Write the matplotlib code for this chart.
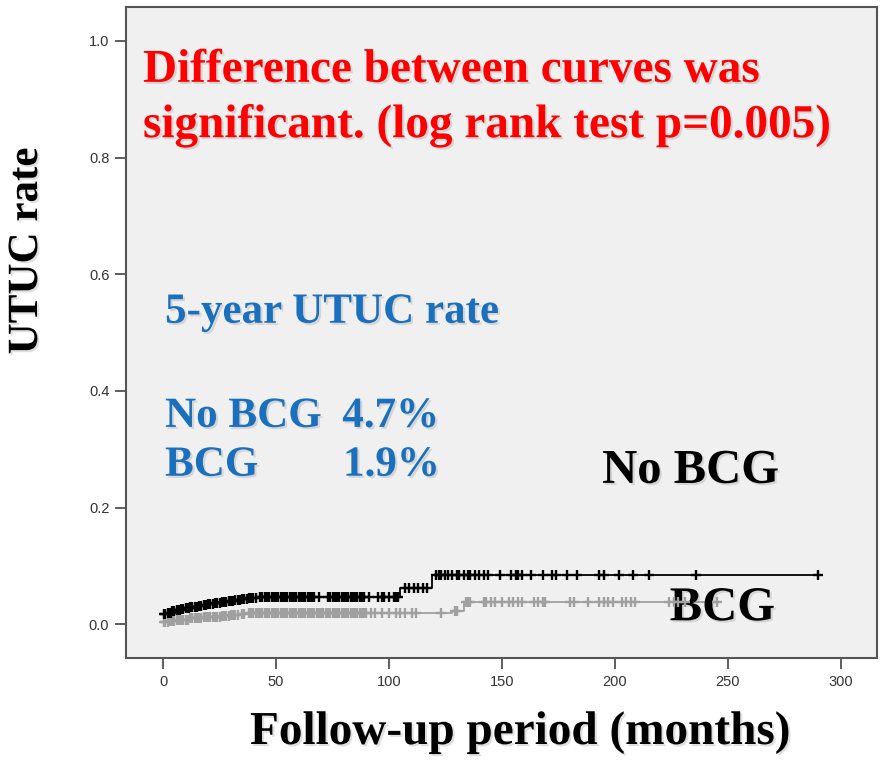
import numpy as np
import matplotlib
matplotlib.use("Agg")
import matplotlib.pyplot as plt
import matplotlib.patheffects as pe

# cumulative UTUC rate, step curves (months, rate)
nobcg_times = [0, 2, 4, 6, 8, 10, 12, 14, 16, 18, 20, 23, 26, 29, 32, 35, 38, 42, 105, 119]
nobcg_rate = [0.018, 0.020, 0.022, 0.024, 0.026, 0.027, 0.029, 0.030, 0.032, 0.033,
              0.035, 0.036, 0.038, 0.040, 0.042, 0.043, 0.045, 0.047, 0.062, 0.085]
bcg_times = [0, 3, 6, 9, 12, 15, 18, 22, 26, 30, 34, 37, 128, 133]
bcg_rate = [0.003, 0.005, 0.007, 0.008, 0.010, 0.011, 0.012, 0.013, 0.014, 0.015,
            0.017, 0.019, 0.022, 0.038]

# censored observations (months)
nobcg_censor = [0.5, 1, 2, 3, 3.5, 4, 5, 6, 7, 7.5, 8, 9, 10, 11, 11.5, 12, 13, 14, 15, 16,
                17, 18, 19, 20, 21, 22, 23, 24, 25, 26, 27, 28, 29, 30, 31, 32, 33, 34, 35,
                36, 37, 38, 39, 40, 41, 43, 44, 45, 46, 47, 48, 49, 50, 51, 52, 53, 54, 55,
                56, 57, 58, 59, 60, 61, 62, 63, 64, 65, 66, 67, 69, 73, 74, 75, 76, 77, 78,
                79, 80, 81, 82, 83, 84, 85, 86, 87, 88, 89, 91, 95, 97, 98, 100, 102, 103,
                104, 107, 109, 111, 113, 115, 117, 121, 122, 123, 125, 126, 128, 130, 131,
                133, 135, 136, 138, 140, 142, 144, 149, 154, 156, 157, 159, 163, 168, 172,
                174, 179, 183, 193, 195, 202, 208, 215, 236, 290]
bcg_censor = [0.5, 1, 2, 3, 4, 5, 6, 7, 8, 9, 10, 11, 12, 13, 14, 15, 16, 17, 18, 19, 20,
              21, 22, 23, 24, 25, 26, 27, 28, 29, 30, 31, 32, 33, 35, 36, 38, 39, 40, 41,
              42, 43, 44, 45, 46, 47, 48, 49, 50, 51, 52, 53, 54, 55, 56, 57, 58, 59, 60,
              61, 62, 63, 64, 65, 66, 67, 68, 69, 70, 71, 72, 73, 74, 75, 76, 77, 78, 79,
              80, 81, 82, 83, 84, 85, 86, 87, 88, 89, 90, 92, 94, 97, 100, 103, 105, 107,
              110, 112, 123, 129, 130, 134, 135, 136, 142, 143, 145, 147, 150, 153, 155,
              157, 159, 164, 166, 168, 169, 180, 182, 188, 193, 195, 197, 199, 203, 205,
              207, 209, 224, 226, 228, 231, 245]
nobcg_end = 290
bcg_end = 245

x_ticks = [0, 50, 100, 150, 200, 250, 300]
y_ticks = [0.0, 0.2, 0.4, 0.6, 0.8, 1.0]


def step_value(times, rates, t):
    idx = np.searchsorted(times, t, side="right") - 1
    return np.asarray(rates)[idx]


serif = ["Liberation Serif", "DejaVu Serif"]
shadow = [pe.withSimplePatchShadow(offset=(1.5, -1.5), shadow_rgbFace="0.6", alpha=0.3)]

fig = plt.figure(figsize=(8.84, 7.65), dpi=100)
ax = fig.add_axes([126 / 884, 107 / 765, 751 / 884, 651 / 765])
ax.set_facecolor("#f0f0f0")

# step curves
for times, rates, end, censor, col in [
    (bcg_times, bcg_rate, bcg_end, bcg_censor, "#a0a0a0"),
    (nobcg_times, nobcg_rate, nobcg_end, nobcg_censor, "black"),
]:
    tx = list(times) + [end]
    ry = list(rates) + [rates[-1]]
    ax.step(tx, ry, where="post", color=col, lw=1.3, zorder=3)
    ax.plot(censor, step_value(times, rates, censor), ls="none", marker="+",
            ms=7, mew=1.7, color=col, zorder=4)

ax.set_xlim(-16.4, 316)
ax.set_ylim(-0.058, 1.058)
ax.set_xticks(x_ticks)
ax.set_yticks(y_ticks)
ax.set_xticklabels([str(v) for v in x_ticks])
ax.set_yticklabels([f"{v:.1f}" for v in y_ticks])
ax.tick_params(length=8, width=1.2, color="#444444", labelcolor="#333333",
               labelsize=10.5, pad=4)
for lab in ax.get_xticklabels() + ax.get_yticklabels():
    lab.set_family(["Liberation Sans Narrow", "Liberation Sans", "DejaVu Sans"])
for s in ax.spines.values():
    s.set_color("#555555")
    s.set_linewidth(1.5)

# annotations
red_kw = dict(transform=ax.transAxes, color="red", fontsize=34, fontweight="bold",
              family=serif, va="baseline", ha="left", path_effects=shadow)
ax.text(0.0226, 0.885, "Difference between curves was", **red_kw)
ax.text(0.0226, 0.800, "significant. (log rank test p=0.005)", **red_kw)

blue_kw = dict(transform=ax.transAxes, color="#1b70bd", fontsize=31, fontweight="bold",
               family=serif, va="baseline", ha="left", path_effects=shadow)
ax.text(0.052, 0.515, "5-year UTUC rate", **blue_kw)
ax.text(0.052, 0.355, "No BCG", **blue_kw)
ax.text(0.288, 0.355, "4.7%", **blue_kw)
ax.text(0.052, 0.280, "BCG", **blue_kw)
ax.text(0.289, 0.280, "1.9%", **blue_kw)

blk_kw = dict(transform=ax.transAxes, color="black", fontsize=35, fontweight="bold",
              family=serif, va="baseline", ha="left", path_effects=shadow)
ax.text(0.634, 0.269, "No BCG", **blk_kw)
ax.text(0.724, 0.058, "BCG", **blk_kw)

fig.text(27 / 884, 1 - 251 / 765, "UTUC rate", rotation=90, ha="center", va="center",
         fontsize=31, fontweight="bold", family=serif, path_effects=shadow)
fig.text(520 / 884, 21 / 765, "Follow-up period (months)", ha="center", va="baseline",
         fontsize=34, fontweight="bold", family=serif, path_effects=shadow)

fig.savefig("out.png", dpi=100)
